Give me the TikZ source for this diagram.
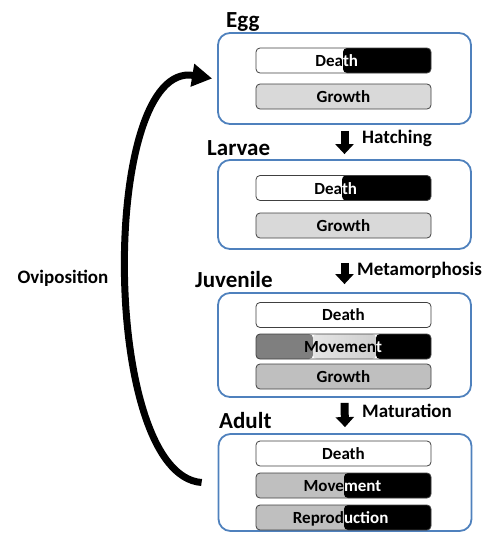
\documentclass[tikz,border=0pt]{standalone}
\usepackage{fontspec}
\setmainfont{Carlito}
\usetikzlibrary{arrows.meta, positioning, backgrounds}
\definecolor{stageblue}{HTML}{4F81BD}
\definecolor{barline}{HTML}{404040}
\definecolor{barlight}{HTML}{D9D9D9}
\definecolor{barmid}{HTML}{BFBFBF}
\definecolor{bardark}{HTML}{7F7F7F}
\newcommand{\barfont}{\fontsize{17}{19}\selectfont\bfseries}
% bar with a black right part from x=#3, its text split there
\newcommand{\splitbar}[6]{%
  \node[bar, fill=#4, blackfrom=#3-256] (#1) at (343.5,#2) {};
  \node[bartext] (#1text) at (#3,#2+6) {\llap{#5}\rlap{\textcolor{white}{#6}}};
}

\begin{document}
\begin{tikzpicture}[
  x=1pt, y=-1pt,
  stage/.style={
    rectangle, rounded corners=12pt,
    draw=stageblue, line width=1.8pt,
    minimum width=253pt
  },
  stagename/.style={anchor=base west, inner sep=0pt,
    font=\fontsize{23}{26}\selectfont\bfseries},
  change/.style={anchor=base west, inner sep=0pt,
    font=\fontsize{19}{22}\selectfont\bfseries},
  bar/.style={
    rectangle, rounded corners=4pt,
    draw=barline, line width=0.8pt,
    minimum width=175pt, minimum height=25pt,
    inner sep=0pt, font=\barfont, text=black
  },
  bartext/.style={anchor=base, inner sep=0pt, font=\barfont, text=black},
  blackfrom/.style={path picture={
    \fill[black] ([xshift=#1]path picture bounding box.north west)
      rectangle (path picture bounding box.south east);}},
  juvmove/.style={path picture={
    \fill[bardark] (path picture bounding box.south west)
      rectangle ([xshift=57pt]path picture bounding box.north west);
    \shade[left color=gray!20, right color=gray!38]
      ([xshift=57pt]path picture bounding box.south west)
      rectangle ([xshift=120pt]path picture bounding box.north west);
    \fill[black] ([xshift=120pt]path picture bounding box.north west)
      rectangle (path picture bounding box.south east);}},
  moltarrow/.style={-{Triangle[length=10pt,width=18pt]}, line width=8pt},
  ovi/.style={-{Triangle[length=20pt,width=22pt]}, line width=7pt}
]
\useasboundingbox (0,0) rectangle (492,533);

% Egg
\node[stage, minimum height=91pt] (egg) at (344.5,78.5) {};
\node[stagename] (eggname) at (226,27) {Egg};
\splitbar{eggdeath}{60.5}{343}{white}{Dea}{th}
\node[bar, fill=barlight] (egggrowth) at (343.5,96.5) {Growth};

% Larvae
\node[stage, minimum height=89pt] (larvae) at (344.5,204.5) {};
\node[stagename] (larvaename) at (207,155) {Larvae};
\splitbar{larvaedeath}{188}{342}{white}{Dea}{th}
\node[bar, fill=barlight] (larvaegrowth) at (343.5,225.5) {Growth};

% Juvenile
\node[stage, minimum height=104pt] (juvenile) at (344.5,345) {};
\node[stagename] (juvname) at (195,287) {Juvenile};
\node[bar, fill=white] (juvdeath) at (343.5,315) {Death};
\node[bar, juvmove] (juvmovement) at (343.5,346.5) {};
\node[bartext] (juvmovementtext) at (376,352.5)
      {\llap{Movemen}\rlap{\textcolor{white}{t}}};
\node[bar, fill=barmid] (juvgrowth) at (343.5,376.5) {Growth};

% Adult
\node[stage, minimum height=97pt] (adult) at (345,482.5) {};
\node[stagename] (adultname) at (219,428) {Adult};
\node[bar, fill=white] (adultdeath) at (343.5,453.5) {Death};
\splitbar{adultmovement}{485.5}{344}{barmid}{Move}{ment}
\splitbar{adultrepro}{517.5}{344}{barmid}{Reprod}{uction}

% Transitions
\draw[moltarrow] ([yshift=-6pt]egg.south) -- ([yshift=5pt]larvae.north);
\node[change] (hatching) at (362,143) {Hatching};
\draw[moltarrow] ([yshift=-13pt]larvae.south) -- ([yshift=8pt]juvenile.north);
\node[change] (metamorph) at (357,275) {Metamorphosis};
\draw[moltarrow] ([yshift=-5pt]juvenile.south) -- ([yshift=6pt]adult.north);
\node[change] (maturation) at (362,417) {Maturation};

% Oviposition
\draw[ovi] ([xshift=-16pt]adult.west) .. controls (100,475) and (100,60)
      .. ([xshift=-5pt]egg.west);
\node[font=\fontsize{19}{22}\selectfont\bfseries] (oviposition) at (63,278)
      {Oviposition};

\end{tikzpicture}
\end{document}
